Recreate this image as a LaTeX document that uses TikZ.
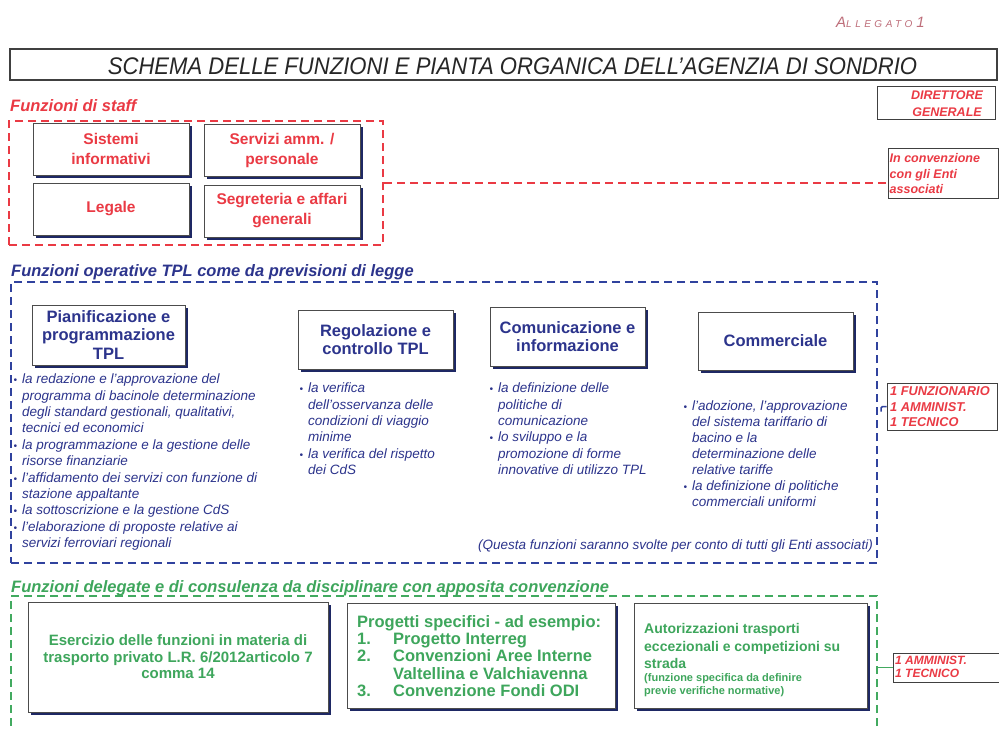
\documentclass[tikz,border=0pt]{standalone}
\usepackage{fontspec}
\setmainfont{Liberation Sans}
\newfontfamily\titlefont[FakeStretch=0.92]{Liberation Sans}
\newfontfamily\handfont[LetterSpace=35]{Liberation Sans}
\usetikzlibrary{shadows}
\definecolor{redc}{RGB}{234,58,68}
\definecolor{bluet}{RGB}{44,52,140}
\definecolor{blued}{RGB}{48,66,158}
\definecolor{greent}{RGB}{62,166,92}
\definecolor{greend}{RGB}{66,170,96}
\definecolor{shadowc}{RGB}{30,40,100}
\definecolor{handc}{RGB}{190,110,122}
\newcommand{\setfs}[2]{\fontsize{#1}{#2}\selectfont}
\newcommand{\bl}{\llap{{\setfs{10}{10}\textbullet}\hspace{5pt}}}
\tikzset{
  sbox/.style={draw=black!70, line width=0.8pt, fill=white, inner sep=2pt, align=center,
    drop shadow={shadow xshift=2.5pt, shadow yshift=-2.5pt, fill=shadowc, opacity=1}},
  plainbox/.style={draw=black!75, line width=1pt, fill=white, inner sep=0pt},
  dashred/.style={draw=redc, line width=2pt, dash pattern=on 8pt off 5pt},
  dashblue/.style={draw=blued, line width=2pt, dash pattern=on 8pt off 5pt},
  dashgreen/.style={draw=greend, line width=2pt, dash pattern=on 8pt off 5pt},
  heading/.style={font=\bfseries\itshape\setfs{16.5}{18}, anchor=base west, inner sep=0pt},
  redbox/.style={sbox, text=redc, font=\bfseries\setfs{15.5}{20}, minimum width=156pt, minimum height=52pt},
  bluebox/.style={sbox, text=bluet, font=\bfseries\setfs{16.5}{18.5}, minimum width=155pt, minimum height=59pt},
  bluelist/.style={text=bluet, font=\itshape\setfs{13.5}{16.4}, align=left, anchor=north west, inner sep=0pt},
  redlab/.style={text=redc, font=\bfseries\itshape\setfs{12.5}{15.5}, align=left, anchor=north west, inner sep=0pt},
}
\begin{document}
\begin{tikzpicture}[x=1pt,y=-1pt]
\useasboundingbox (0,0) rectangle (999,729);
\clip (0,0) rectangle (999,729);
\fill[white] (0,0) rectangle (999,729);

% handwritten note
\node[text=handc, font=\handfont\itshape, anchor=base west, inner sep=0pt] (alleg) at (836,27)
  {{\setfs{15}{15}A}{\setfs{10}{10}LLEGATO}\hspace{4pt}{\setfs{15}{15}1}};

% title
\node[draw=black!75, line width=1.2pt, minimum width=987pt, minimum height=31pt, inner sep=0pt] (titlebox) at (503.5,64.5) {};
\node[font=\titlefont\itshape\setfs{24}{24}, text=black!85, anchor=base, inner sep=0pt] (title) at (512.5,74.5)
  {SCHEMA DELLE FUNZIONI E PIANTA ORGANICA DELL’AGENZIA DI SONDRIO};

% staff section
\node[heading, text=redc] (staffh) at (10,111) {Funzioni di staff};
\node[dashred, minimum width=374pt, minimum height=124pt, inner sep=0pt] (staffbox) at (196,183) {};
\node[redbox] (sis) at (111,149) {Sistemi\\informativi};
\node[redbox] (serv) at (282,150) {Servizi amm. /\\personale};
\node[redbox] (leg) at (111,209) {Legale};
\node[redbox] (seg) at (282,211) {Segreteria e affari\\generali};

\node[plainbox, minimum width=118pt, minimum height=33pt] (dg) at (936,102.5) {};
\node[text=redc, font=\bfseries\itshape\setfs{12.5}{17}, align=center, inner sep=0pt] (dgt) at (947,104) {DIRETTORE\\GENERALE};

\node[plainbox, minimum width=110pt, minimum height=50pt] (conv) at (943,173) {};
\node[redlab] (convt) at (889.5,153.3) {In convenzione\\con gli Enti\\associati};
\draw[dashred] (staffbox.east) -- (staffbox.east -| conv.west);

% operative section
\node[heading, text=bluet] (oph) at (11,276) {Funzioni operative TPL come da previsioni di legge};
\node[dashblue, minimum width=866pt, minimum height=281pt, inner sep=0pt] (opbox) at (444,422.5) {};

\node[bluebox, minimum width=153pt, minimum height=60pt] (pian) at (108.5,335) {Pianificazione e\\programmazione\\TPL};
\node[bluebox] (reg) at (375.5,339.5) {Regolazione e\\controllo TPL};
\node[bluebox] (com) at (567.5,336.5) {Comunicazione e\\informazione};
\node[bluebox, minimum height=58pt] (comm) at (775.5,341) {Commerciale};

\node[bluelist] (pianl) at (22,373.8) {\bl la redazione e l’approvazione del\\
programma di bacinole determinazione\\
degli standard gestionali, qualitativi,\\
tecnici ed economici\\
\bl la programmazione e la gestione delle\\
risorse finanziarie\\
\bl l’affidamento dei servizi con funzione di\\
stazione appaltante\\
\bl la sottoscrizione e la gestione CdS\\
\bl l’elaborazione di proposte relative ai\\
servizi ferroviari regionali};

\node[bluelist] (regl) at (308,382.8) {\bl la verifica\\
dell’osservanza delle\\
condizioni di viaggio\\
minime\\
\bl la verifica del rispetto\\
dei CdS};

\node[bluelist] (coml) at (498,382.8) {\bl la definizione delle\\
politiche di\\
comunicazione\\
\bl lo sviluppo e la\\
promozione di forme\\
innovative di utilizzo TPL};

\node[bluelist, font=\itshape\setfs{13.5}{16}] (comml) at (692,400.8) {\bl l’adozione, l’approvazione\\
del sistema tariffario di\\
bacino e la\\
determinazione delle\\
relative tariffe\\
\bl la definizione di politiche\\
commerciali uniformi};

\node[text=bluet, font=\itshape\setfs{13.5}{16}, anchor=base east, inner sep=0pt] (questa) at (873,549)
  {(Questa funzioni saranno svolte per conto di tutti gli Enti associati)};

\node[plainbox, minimum width=110pt, minimum height=47pt] (fun) at (942,406.5) {};
\node[redlab, font=\bfseries\itshape\setfs{12.8}{15.5}] (funt) at (890,386.4) {1 FUNZIONARIO\\1 AMMINIST.\\1 TECNICO};
\coordinate (bj) at ([xshift=3pt]opbox.east |- fun.west);
\draw[blued, line width=1.5pt, rounded corners=1.5pt] ([yshift=-5pt]bj) -- (bj) -- (fun.west);

% delegated section
\node[heading, text=greent] (delh) at (11,592) {Funzioni delegate e di consulenza da disciplinare con apposita convenzione};
\node[dashgreen, minimum width=866pt, minimum height=174pt, inner sep=0pt] (delbox) at (444,683) {};

\node[sbox, text=greent, font=\bfseries\setfs{15}{16.5}, minimum width=300pt, minimum height=110pt] (ese) at (178,657)
  {Esercizio delle funzioni in materia di\\trasporto privato L.R. 6/2012articolo 7\\comma 14};

\node[sbox, minimum width=268pt, minimum height=105pt] (prog) at (481,655.5) {};
\node[text=greent, font=\bfseries\setfs{16.5}{17.2}, align=left, anchor=north west, inner sep=0pt] (progt) at (357,615.3)
  {Progetti specifici - ad esempio:\\
  \makebox[36pt][l]{1.}Progetto Interreg\\
  \makebox[36pt][l]{2.}Convenzioni Aree Interne\\
  \hspace*{36pt}Valtellina e Valchiavenna\\
  \makebox[36pt][l]{3.}Convenzione Fondi ODI};

\node[sbox, minimum width=233pt, minimum height=105pt] (aut) at (750.5,655.5) {};
\node[text=greent, font=\bfseries\setfs{14}{17.5}, align=left, anchor=north west, inner sep=0pt] (autt) at (644,623.5)
  {Autorizzazioni trasporti\\eccezionali e competizioni su\\strada};
\node[text=greent, font=\bfseries\setfs{11}{12.5}, align=left, anchor=north west, inner sep=0pt] (autn) at (644,673.5)
  {(funzione specifica da definire\\previe verifiche normative)};

\node[plainbox, minimum width=112pt, minimum height=29pt] (amm) at (949,667.5) {};
\node[redlab, font=\bfseries\itshape\setfs{12}{13.5}] (ammt) at (895,655.7) {1 AMMINIST.\\1 TECNICO};
\draw[greend, line width=1.5pt] (delbox.east |- amm.west) -- (amm.west);

\end{tikzpicture}
\end{document}
